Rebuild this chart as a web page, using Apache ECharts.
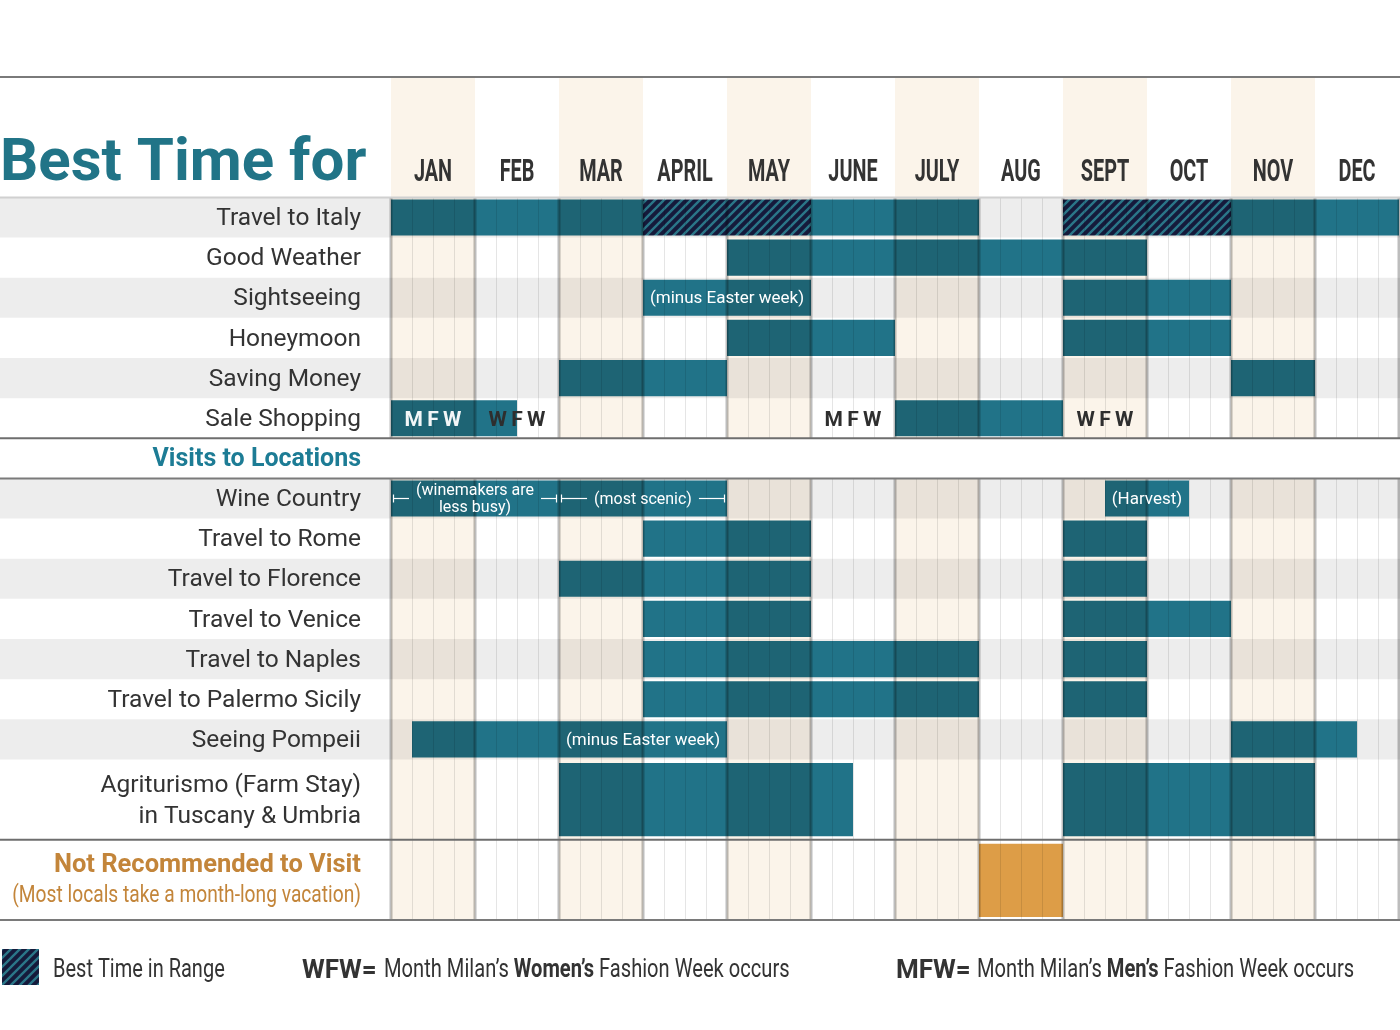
<!DOCTYPE html>
<html><head><meta charset="utf-8">
<script src="https://cdn.jsdelivr.net/npm/echarts@6/dist/echarts.min.js"></script>
<style>html,body{margin:0;padding:0;background:#fff}#c{width:1400px;height:1030px}</style>
</head><body><div id="c"></div>
<script>
// ---------------- DATA ----------------
const months = ['JAN','FEB','MAR','APRIL','MAY','JUNE','JULY','AUG','SEPT','OCT','NOV','DEC'];
const rowLabels = ['Travel to Italy','Good Weather','Sightseeing','Honeymoon','Saving Money','Sale Shopping',
  'Wine Country','Travel to Rome','Travel to Florence','Travel to Venice','Travel to Naples',
  'Travel to Palermo Sicily','Seeing Pompeii','Agriturismo (Farm Stay)\nin Tuscany & Umbria'];
const sectionLabels = ['Visits to Locations','Not Recommended to Visit','(Most locals take a month-long vacation)'];
// ranges in months counted from the start of January: [start, end]
const travelItaly     = [[0,3],[5,7],[10,12]];
const travelItalyBest = [[3,5],[8,10]];
const goodWeather     = [[4,9]];
const sightseeing     = [[3,5],[8,10]];
const honeymoon       = [[4,6],[8,10]];
const savingMoney     = [[2,4],[10,11]];
const saleShopping    = [[0,1.5],[6,8]];
const wineCountry     = [[0,4],[8.5,9.5]];
const travelRome      = [[3,5],[8,9]];
const travelFlorence  = [[2,5],[8,9]];
const travelVenice    = [[3,5],[8,10]];
const travelNaples    = [[3,7],[8,9]];
const travelPalermo   = [[3,7],[8,9]];
const seeingPompeii   = [[0.25,4],[10,11.5]];
const agriturismo     = [[2,5.5],[8,11]];
const notRecommended  = [[7,8]];
const fashionWeeks    = [['MFW',0.5],['WFW',1.5],['MFW',5.5],['WFW',8.5]];
// notes inside bars: [rowIndex, text, centre month]
const barNotes   = [[2,'(minus Easter week)',4],[12,'(minus Easter week)',3],[6,'(Harvest)',9]];
// bracketed notes: [rowIndex, text, from month, to month]
const rangeNotes = [[6,'(winemakers are\nless busy)',0,2],[6,'(most scenic)',2,4]];

// ---------------- LAYOUT ----------------
const rowRanges = [travelItaly, goodWeather, sightseeing, honeymoon, savingMoney, saleShopping,
  wineCountry, travelRome, travelFlorence, travelVenice, travelNaples, travelPalermo, seeingPompeii, agriturismo];
const rowSlot = [3,4,5,6,7,8,10,11,12,13,14,15,16,17];
const rowSpan = [1,1,1,1,1,1,1,1,1,1,1,1,1,2];
const bandRows = [0,2,4,6,8,10,12];
const NOTREC_SLOT = 19, NOTREC_SPAN = 2;
const DARK = '#1e6474', LIGHT = '#217388', CREAM = '#fbf4ea', ORANGE = '#dd9d47';
const TEAL_TEXT = '#217487', ORANGE_TEXT = '#c3853a', TXT = '#333333';
const FONT = 'Roboto, "Noto Sans", sans-serif';
const TY = 1.5; // small baseline nudge for text

function makeHatch() {
  const c = document.createElement('canvas'); const n = 9;
  c.width = n; c.height = n;
  const g = c.getContext('2d');
  g.fillStyle = '#151a3b'; g.fillRect(0,0,n,n);
  g.strokeStyle = '#2b7688'; g.lineWidth = 2.4;
  g.beginPath();
  g.moveTo(-2,n+2); g.lineTo(n+2,-2);
  g.moveTo(-2,2); g.lineTo(2,-2);
  g.moveTo(n-2,n+2); g.lineTo(n+2,n-2);
  g.stroke();
  return c;
}
const hatch = makeHatch();
const hatchFill = {image: hatch, repeat: 'repeat'};

const measureCtx = document.createElement('canvas').getContext('2d');
function textWidth(t, font) {
  measureCtx.font = font;
  return Math.max(...t.split('\n').map(s => measureCtx.measureText(s).width));
}

function yc(api, slot) { return api.coord([0, slot])[1]; }
function xc(api, m) { return api.coord([m, 0])[0]; }

// bar data: [start, end, row]
const barData = [];
rowRanges.forEach((rs, r) => rs.forEach(([s,e]) => barData.push([s,e,r])));

function segRects(api, s, e, y0, y1, colorFn) {
  const ch = [];
  for (let m = Math.floor(s); m < e; m++) {
    const a = Math.max(s,m), b = Math.min(e,m+1);
    if (b <= a) continue;
    const xa = xc(api,a), xb = xc(api,b);
    ch.push({type:'rect', shape:{x:xa, y:y0, width:xb-xa, height:y1-y0}, style:{fill: colorFn(m)}});
  }
  return ch;
}

const series = [];
// cream month columns
series.push({
  type:'custom', z:1, silent:true, clip:false,
  data: months.map((m,i)=>[i]).filter(d=>d[0]%2===0),
  renderItem(p, api) {
    const m = api.value(0); const xa = xc(api,m), xb = xc(api,m+1);
    return {type:'group', children:[
      {type:'rect', shape:{x:xa, y:yc(api,0)+1, width:xb-xa, height:yc(api,9)-yc(api,0)-1}, style:{fill:CREAM}},
      {type:'rect', shape:{x:xa, y:yc(api,10), width:xb-xa, height:yc(api,21)-yc(api,10)}, style:{fill:CREAM}}
    ]};
  }
});
// grey row bands
series.push({
  type:'custom', z:2, silent:true, clip:false,
  data: bandRows.map(r=>[r]),
  renderItem(p, api) {
    const r = api.value(0);
    const y0 = yc(api,rowSlot[r]), y1 = yc(api,rowSlot[r]+rowSpan[r]);
    return {type:'rect', shape:{x:0, y:y0, width:api.getWidth(), height:y1-y0}, style:{fill:'rgba(0,0,0,0.07)'}};
  }
});
// main bars
series.push({
  type:'custom', z:3, silent:true, clip:false,
  data: barData,
  renderItem(p, api) {
    const s = api.value(0), e = api.value(1), r = api.value(2);
    const inset = rowSpan[r] > 1 ? 3.5 : 2;
    const y0 = yc(api,rowSlot[r]) + inset, y1 = yc(api,rowSlot[r]+rowSpan[r]) - inset;
    return {type:'group', children: segRects(api, s, e, y0, y1, m => m%2===0 ? DARK : LIGHT)};
  }
});
// hatched "best time in range"
series.push({
  type:'custom', z:3, silent:true, clip:false,
  data: travelItalyBest,
  renderItem(p, api) {
    const s = api.value(0), e = api.value(1);
    const y0 = yc(api,rowSlot[0]) + 2, y1 = yc(api,rowSlot[0]+1) - 2;
    const xa = xc(api,s), xb = xc(api,e);
    return {type:'rect', shape:{x:xa, y:y0, width:xb-xa, height:y1-y0}, style:{fill:hatchFill}};
  }
});
// not recommended (orange)
series.push({
  type:'custom', z:3, silent:true, clip:false,
  data: notRecommended,
  renderItem(p, api) {
    const s = api.value(0), e = api.value(1);
    const y0 = yc(api,NOTREC_SLOT) + 4, y1 = yc(api,NOTREC_SLOT+NOTREC_SPAN) - 3;
    const xa = xc(api,s), xb = xc(api,e);
    return {type:'rect', shape:{x:xa, y:y0, width:xb-xa, height:y1-y0}, style:{fill:ORANGE}};
  }
});
// vertical week / month lines
const weeks = []; for (let w = 0; w <= 48; w++) weeks.push([w]);
series.push({
  type:'custom', z:4, silent:true, clip:false,
  data: weeks,
  renderItem(p, api) {
    const w = api.value(0); const isM = w % 4 === 0;
    let x = xc(api, w/4); if (!isM) x += 0.5;
    const st = {stroke: isM ? 'rgba(0,0,0,0.26)' : 'rgba(0,0,0,0.1)', lineWidth: isM ? 3 : 1};
    return {type:'group', children:[
      {type:'line', shape:{x1:x, y1:yc(api,3), x2:x, y2:yc(api,9)}, style:st},
      {type:'line', shape:{x1:x, y1:yc(api,10), x2:x, y2:yc(api,21)}, style:st}
    ]};
  }
});
// horizontal rules
const hRules = [[0,'#7a7a7a'],[3,'#d0d0d0'],[9,'#6e6e6e'],[10,'#7a7a7a'],[19,'#6e6e6e'],[21,'#7a7a7a']];
series.push({
  type:'custom', z:5, silent:true, clip:false,
  data: hRules.map((h,i)=>[h[0], i]),
  renderItem(p, api) {
    const sl = api.value(0), i = api.value(1);
    const y = yc(api, sl);
    return {type:'line', shape:{x1:0, y1:y, x2:api.getWidth(), y2:y}, style:{stroke:hRules[i][1], lineWidth:2}};
  }
});
// month header labels
series.push({
  type:'custom', z:6, silent:true, clip:false,
  data: months.map((m,i)=>[i+0.5]),
  renderItem(p, api) {
    const x = xc(api, api.value(0)), y = yc(api, 2.38);
    return {type:'text', x:x, y:y, scaleX:0.62,
      style:{text: months[p.dataIndex], x:0, y:0, fill:'#333', font:'bold 32px ' + FONT, align:'center', verticalAlign:'middle'}};
  }
});
// row labels
series.push({
  type:'custom', z:6, silent:true, clip:false,
  data: rowLabels.map((l,i)=>[i]),
  renderItem(p, api) {
    const r = api.value(0);
    const x = xc(api,0) - 30, y = yc(api, rowSlot[r] + rowSpan[r]/2) + TY;
    return {type:'text', x:x, y:y,
      style:{text: rowLabels[r], x:0, y:0, fill:TXT, font:'24.5px ' + FONT, align:'right', verticalAlign:'middle', lineHeight:31}};
  }
});
// section labels
const sectionSlot = [9.5, 19.6, 20.37];
series.push({
  type:'custom', z:6, silent:true, clip:false,
  data: sectionLabels.map((l,i)=>[i]),
  renderItem(p, api) {
    const i = api.value(0);
    const x = xc(api,0) - 30, y = yc(api, sectionSlot[i]) + TY;
    const styles = [
      {fill:'#1d7c95', font:'bold 25px ' + FONT, sx:1},
      {fill:ORANGE_TEXT, font:'bold 25.5px ' + FONT, sx:1},
      {fill:ORANGE_TEXT, font:'24px ' + FONT, sx:0.8}
    ];
    return {type:'text', x:x, y:y, scaleX:styles[i].sx,
      style:{text: sectionLabels[i], x:0, y:0, fill:styles[i].fill, font:styles[i].font, align:'right', verticalAlign:'middle'}};
  }
});
// notes inside bars
series.push({
  type:'custom', z:6, silent:true, clip:false,
  data: barNotes.map((n,i)=>[n[2], n[0]]),
  renderItem(p, api) {
    const m = api.value(0), r = api.value(1);
    return {type:'text', x:xc(api,m), y:yc(api,rowSlot[r]+0.5) + 1,
      style:{text: barNotes[p.dataIndex][1], x:0, y:0, fill:'#ffffff', font:'17px ' + FONT, align:'center', verticalAlign:'middle'}};
  }
});
// bracketed notes
series.push({
  type:'custom', z:6, silent:true, clip:false,
  data: rangeNotes.map(n=>[n[2], n[3], n[0]]),
  renderItem(p, api) {
    const a = api.value(0), b = api.value(1), r = api.value(2);
    const t = rangeNotes[p.dataIndex][1];
    const font = '16px ' + FONT;
    const xa = xc(api,a) + 2.5, xb = xc(api,b) - 2.5, cx = (xc(api,a)+xc(api,b))/2;
    const y = yc(api, rowSlot[r]+0.5);
    const half = textWidth(t, font)/2, gap = 7;
    const st = {stroke:'#ffffff', lineWidth:1.2};
    return {type:'group', children:[
      {type:'line', shape:{x1:xa, y1:y, x2:cx-half-gap, y2:y}, style:st},
      {type:'line', shape:{x1:cx+half+gap, y1:y, x2:xb, y2:y}, style:st},
      {type:'line', shape:{x1:xa, y1:y-4, x2:xa, y2:y+4}, style:st},
      {type:'line', shape:{x1:xb, y1:y-4, x2:xb, y2:y+4}, style:st},
      {type:'text', x:cx, y:y + 1, style:{text:t, x:0, y:0, fill:'#ffffff', font:font, align:'center', verticalAlign:'middle', lineHeight:17}}
    ]};
  }
});
// fashion week markers
series.push({
  type:'custom', z:6, silent:true, clip:false,
  data: fashionWeeks.map(f=>[f[1]]),
  renderItem(p, api) {
    const m = api.value(0);
    const onBar = saleShopping.some(([s,e]) => m - s >= 0.45 && e - m >= 0.45);
    return {type:'text', x:xc(api,m), y:yc(api,rowSlot[5]+0.5) + 2.5,
      style:{text: fashionWeeks[p.dataIndex][0].split('').join('\u2009'), x:0, y:0,
        fill: onBar ? '#f2f6f7' : '#2e2e2e', font:'bold 21px ' + FONT, align:'center', verticalAlign:'middle'}};
  }
});

const option = {
  animation:false,
  grid:{left:391, right:1, top:77, bottom:110},
  xAxis:{type:'value', min:0, max:12, show:false},
  yAxis:{type:'value', min:0, max:21, inverse:true, show:false},
  graphic:[
    {type:'text', x:0, y:165, z:10,
      style:{text:'Best Time for', fill:TEAL_TEXT, font:'bold 60px ' + FONT, align:'left', verticalAlign:'middle'}},
    {type:'rect', x:2, y:949, shape:{width:37, height:36}, style:{fill:hatchFill}},
    {type:'text', x:53, y:971, scaleX:0.8, style:{text:'Best Time in Range', fill:TXT, font:'25px ' + FONT, align:'left', verticalAlign:'middle'}},
    {type:'text', x:302, y:971, style:{text:'WFW=', fill:TXT, font:'bold 26px ' + FONT, align:'left', verticalAlign:'middle'}},
    {type:'text', x:384, y:971, scaleX:0.805, style:{
      text:'{n|Month Milan\u2019s }{b|Women\u2019s}{n| Fashion Week occurs}', fill:TXT, align:'left', verticalAlign:'middle',
      rich:{n:{font:'25px ' + FONT, fill:TXT}, b:{font:'bold 25px ' + FONT, fill:TXT}}}},
    {type:'text', x:896, y:971, style:{text:'MFW=', fill:TXT, font:'bold 26px ' + FONT, align:'left', verticalAlign:'middle'}},
    {type:'text', x:977, y:971, scaleX:0.805, style:{
      text:'{n|Month Milan\u2019s }{b|Men\u2019s}{n| Fashion Week occurs}', fill:TXT, align:'left', verticalAlign:'middle',
      rich:{n:{font:'25px ' + FONT, fill:TXT}, b:{font:'bold 25px ' + FONT, fill:TXT}}}}
  ],
  series: series
};
const chart = echarts.init(document.getElementById('c'), null, {renderer:'canvas'});
chart.setOption(option);
</script>
</body></html>
